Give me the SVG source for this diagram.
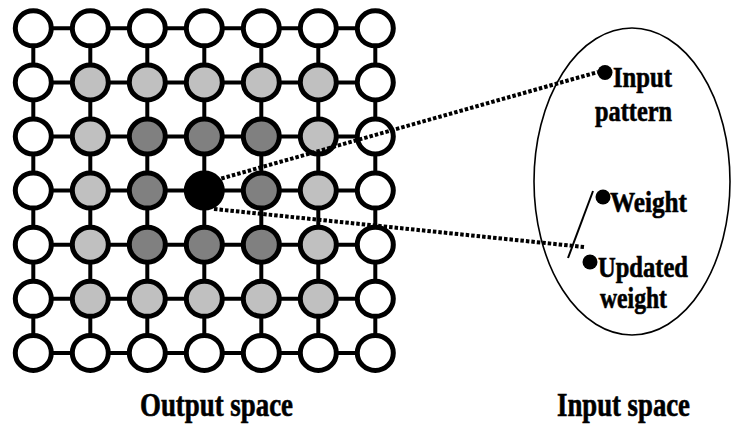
<svg xmlns="http://www.w3.org/2000/svg" width="731" height="425" viewBox="0 0 731 425">
  <style>
    .edge { stroke: #000; stroke-width: 4; fill: none; }
    .n { stroke: #000; stroke-width: 5; }
    .w { fill: #fff; }
    .l { fill: #c0c0c0; }
    .d { fill: #808080; }
    .b { fill: #000; }
    .dots { stroke: #000; stroke-width: 4; stroke-dasharray: 3.5 2; fill: none; }
    .lbl { font-family: "Liberation Serif", "Times New Roman", serif; font-weight: bold; fill: #000; stroke: #000; stroke-width: 0.6; }
    .s28 { font-size: 29px; }
    .s30 { font-size: 33px; }
  </style>
  <rect width="731" height="425" fill="#fff"/>

  <!-- lattice links -->
  <g id="lattice-links">
    <path class="edge" d="M33.3 28.3H375.3M33.3 82.4H375.3M33.3 136.5H375.3M33.3 190.6H375.3M33.3 244.7H375.3M33.3 298.8H375.3M33.3 352.9H375.3"/>
    <path class="edge" d="M33.3 28.3V352.9M90.3 28.3V352.9M147.3 28.3V352.9M204.3 28.3V352.9M261.3 28.3V352.9M318.3 28.3V352.9M375.3 28.3V352.9"/>
  </g>

  <!-- output lattice neurons -->
  <g id="neurons">
    <!-- row 0 -->
    <g id="n0-0"><ellipse class="n w" cx="33.3" cy="28.3" rx="18" ry="17.5"/></g>
    <g id="n0-1"><ellipse class="n w" cx="90.3" cy="28.3" rx="18" ry="17.5"/></g>
    <g id="n0-2"><ellipse class="n w" cx="147.3" cy="28.3" rx="18" ry="17.5"/></g>
    <g id="n0-3"><ellipse class="n w" cx="204.3" cy="28.3" rx="18" ry="17.5"/></g>
    <g id="n0-4"><ellipse class="n w" cx="261.3" cy="28.3" rx="18" ry="17.5"/></g>
    <g id="n0-5"><ellipse class="n w" cx="318.3" cy="28.3" rx="18" ry="17.5"/></g>
    <g id="n0-6"><ellipse class="n w" cx="375.3" cy="28.3" rx="18" ry="17.5"/></g>
    <!-- row 1 -->
    <g id="n1-0"><ellipse class="n w" cx="33.3" cy="82.4" rx="18" ry="17.5"/></g>
    <g id="n1-1"><ellipse class="n l" cx="90.3" cy="82.4" rx="18" ry="17.5"/></g>
    <g id="n1-2"><ellipse class="n l" cx="147.3" cy="82.4" rx="18" ry="17.5"/></g>
    <g id="n1-3"><ellipse class="n l" cx="204.3" cy="82.4" rx="18" ry="17.5"/></g>
    <g id="n1-4"><ellipse class="n l" cx="261.3" cy="82.4" rx="18" ry="17.5"/></g>
    <g id="n1-5"><ellipse class="n l" cx="318.3" cy="82.4" rx="18" ry="17.5"/></g>
    <g id="n1-6"><ellipse class="n w" cx="375.3" cy="82.4" rx="18" ry="17.5"/></g>
    <!-- row 2 -->
    <g id="n2-0"><ellipse class="n w" cx="33.3" cy="136.5" rx="18" ry="17.5"/></g>
    <g id="n2-1"><ellipse class="n l" cx="90.3" cy="136.5" rx="18" ry="17.5"/></g>
    <g id="n2-2"><ellipse class="n d" cx="147.3" cy="136.5" rx="18" ry="17.5"/></g>
    <g id="n2-3"><ellipse class="n d" cx="204.3" cy="136.5" rx="18" ry="17.5"/></g>
    <g id="n2-4"><ellipse class="n d" cx="261.3" cy="136.5" rx="18" ry="17.5"/></g>
    <g id="n2-5"><ellipse class="n l" cx="318.3" cy="136.5" rx="18" ry="17.5"/></g>
    <g id="n2-6"><ellipse class="n w" cx="375.3" cy="136.5" rx="18" ry="17.5"/></g>
    <!-- row 3 (winner in the middle) -->
    <g id="n3-0"><ellipse class="n w" cx="33.3" cy="190.6" rx="18" ry="17.5"/></g>
    <g id="n3-1"><ellipse class="n l" cx="90.3" cy="190.6" rx="18" ry="17.5"/></g>
    <g id="n3-2"><ellipse class="n d" cx="147.3" cy="190.6" rx="18" ry="17.5"/></g>
    <g id="winner"><ellipse class="n b" cx="204.3" cy="190.6" rx="18" ry="17.5"/></g>
    <g id="n3-4"><ellipse class="n d" cx="261.3" cy="190.6" rx="18" ry="17.5"/></g>
    <g id="n3-5"><ellipse class="n l" cx="318.3" cy="190.6" rx="18" ry="17.5"/></g>
    <g id="n3-6"><ellipse class="n w" cx="375.3" cy="190.6" rx="18" ry="17.5"/></g>
    <!-- row 4 -->
    <g id="n4-0"><ellipse class="n w" cx="33.3" cy="244.7" rx="18" ry="17.5"/></g>
    <g id="n4-1"><ellipse class="n l" cx="90.3" cy="244.7" rx="18" ry="17.5"/></g>
    <g id="n4-2"><ellipse class="n d" cx="147.3" cy="244.7" rx="18" ry="17.5"/></g>
    <g id="n4-3"><ellipse class="n d" cx="204.3" cy="244.7" rx="18" ry="17.5"/></g>
    <g id="n4-4"><ellipse class="n d" cx="261.3" cy="244.7" rx="18" ry="17.5"/></g>
    <g id="n4-5"><ellipse class="n l" cx="318.3" cy="244.7" rx="18" ry="17.5"/></g>
    <g id="n4-6"><ellipse class="n w" cx="375.3" cy="244.7" rx="18" ry="17.5"/></g>
    <!-- row 5 -->
    <g id="n5-0"><ellipse class="n w" cx="33.3" cy="298.8" rx="18" ry="17.5"/></g>
    <g id="n5-1"><ellipse class="n l" cx="90.3" cy="298.8" rx="18" ry="17.5"/></g>
    <g id="n5-2"><ellipse class="n l" cx="147.3" cy="298.8" rx="18" ry="17.5"/></g>
    <g id="n5-3"><ellipse class="n l" cx="204.3" cy="298.8" rx="18" ry="17.5"/></g>
    <g id="n5-4"><ellipse class="n l" cx="261.3" cy="298.8" rx="18" ry="17.5"/></g>
    <g id="n5-5"><ellipse class="n l" cx="318.3" cy="298.8" rx="18" ry="17.5"/></g>
    <g id="n5-6"><ellipse class="n w" cx="375.3" cy="298.8" rx="18" ry="17.5"/></g>
    <!-- row 6 -->
    <g id="n6-0"><ellipse class="n w" cx="33.3" cy="352.9" rx="18" ry="17.5"/></g>
    <g id="n6-1"><ellipse class="n w" cx="90.3" cy="352.9" rx="18" ry="17.5"/></g>
    <g id="n6-2"><ellipse class="n w" cx="147.3" cy="352.9" rx="18" ry="17.5"/></g>
    <g id="n6-3"><ellipse class="n w" cx="204.3" cy="352.9" rx="18" ry="17.5"/></g>
    <g id="n6-4"><ellipse class="n w" cx="261.3" cy="352.9" rx="18" ry="17.5"/></g>
    <g id="n6-5"><ellipse class="n w" cx="318.3" cy="352.9" rx="18" ry="17.5"/></g>
    <g id="n6-6"><ellipse class="n w" cx="375.3" cy="352.9" rx="18" ry="17.5"/></g>
  </g>

  <!-- input space region -->
  <g id="input-space">
    <ellipse cx="632" cy="181.5" rx="98" ry="153.5" fill="none" stroke="#000" stroke-width="1.6"/>
  </g>

  <!-- points in input space -->
  <g id="input-pattern">
    <circle cx="605" cy="72.5" r="7.5" fill="#000"/>
    <text class="lbl s28" x="613" y="87" textLength="59" lengthAdjust="spacingAndGlyphs">Input</text>
    <text class="lbl s28" x="595" y="121" textLength="77" lengthAdjust="spacingAndGlyphs">pattern</text>
  </g>
  <g id="weight">
    <circle cx="603" cy="197" r="7.5" fill="#000"/>
    <text class="lbl s28" x="610" y="212" textLength="77" lengthAdjust="spacingAndGlyphs">Weight</text>
  </g>
  <g id="updated-weight">
    <circle cx="590" cy="262" r="7.5" fill="#000"/>
    <text class="lbl s28" x="598" y="277" textLength="90" lengthAdjust="spacingAndGlyphs">Updated</text>
    <text class="lbl s28" x="600" y="308" textLength="67" lengthAdjust="spacingAndGlyphs">weight</text>
  </g>

  <!-- connectors -->
  <g id="connectors">
    <line class="dots" x1="216" y1="180" x2="598" y2="72"/>
    <line class="dots" x1="214" y1="209" x2="584" y2="247"/>
    <line x1="593" y1="191" x2="568" y2="258" stroke="#000" stroke-width="2"/>
  </g>

  <!-- space captions -->
  <g id="captions">
    <text class="lbl s30" x="140" y="416" textLength="153" lengthAdjust="spacingAndGlyphs">Output space</text>
    <text class="lbl s30" x="557" y="416" textLength="133" lengthAdjust="spacingAndGlyphs">Input space</text>
  </g>
</svg>
